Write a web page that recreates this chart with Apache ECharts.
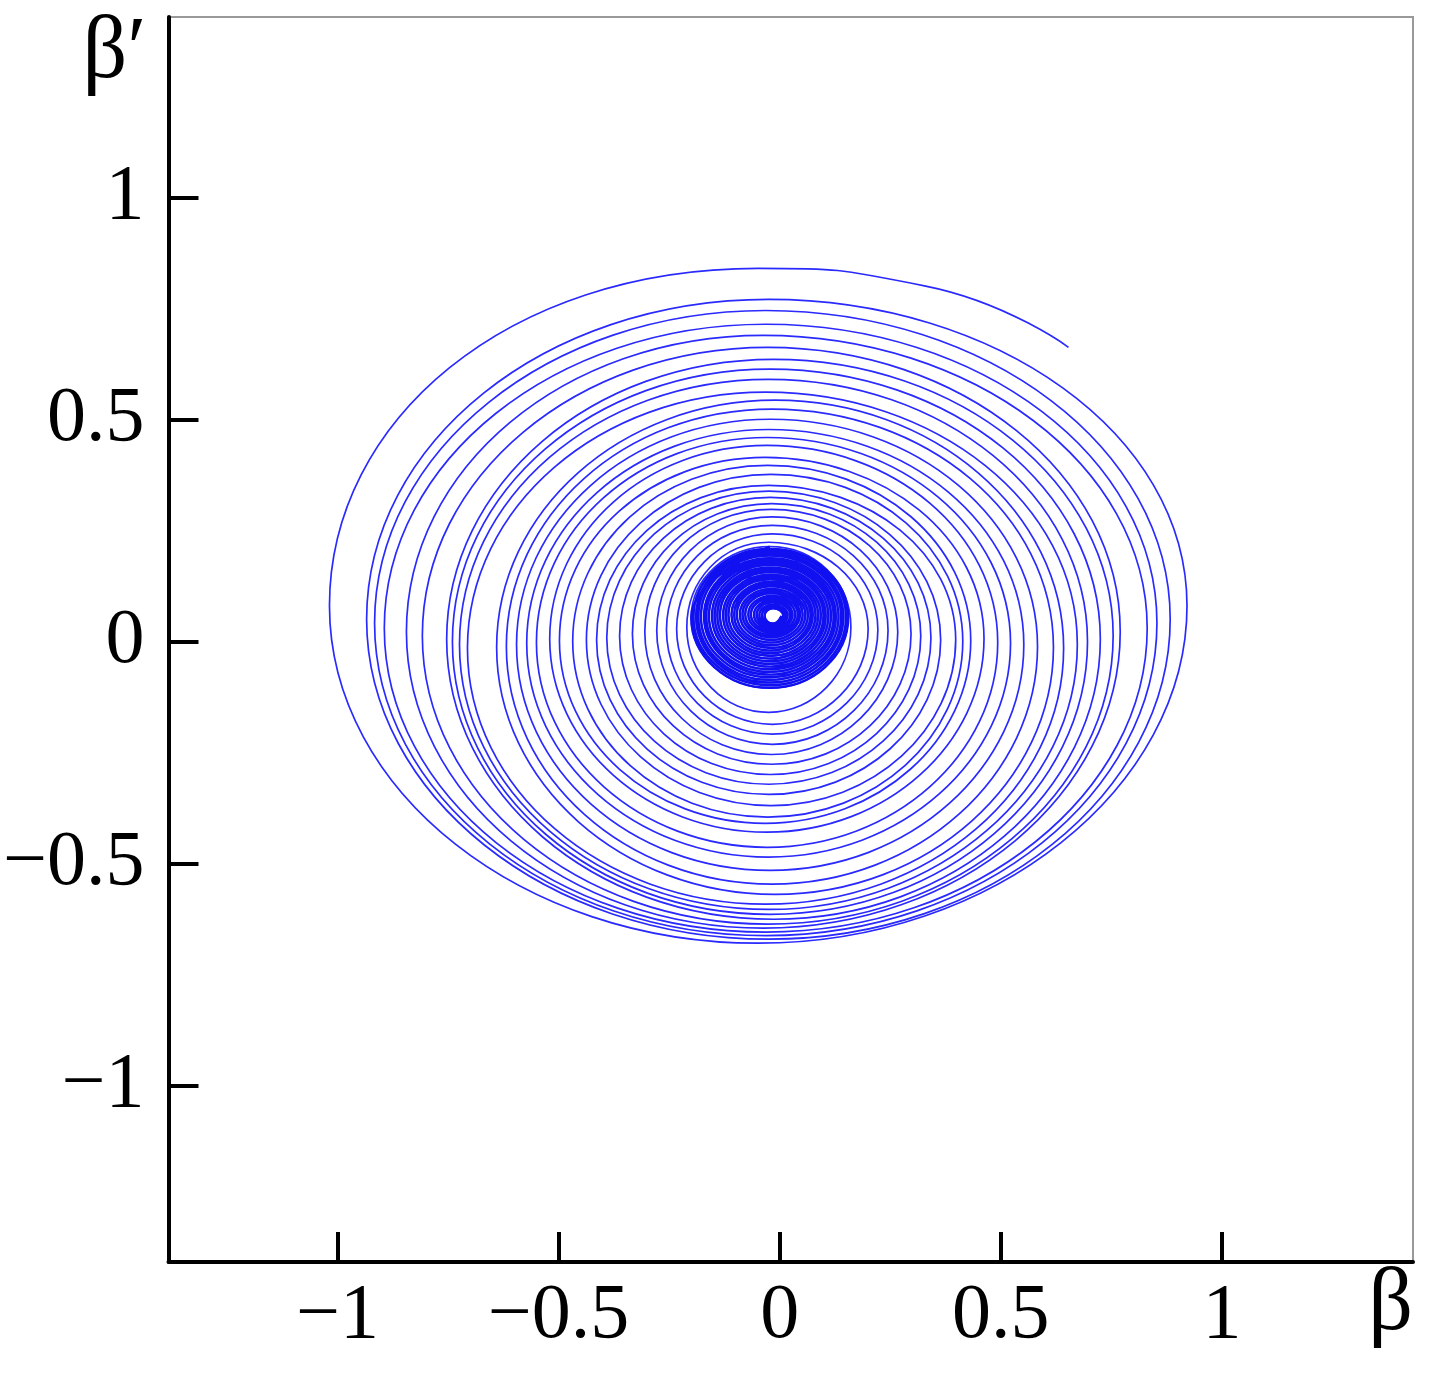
<!DOCTYPE html>
<html>
<head>
<meta charset="utf-8">
<title>phase portrait</title>
<script src="https://cdn.jsdelivr.net/npm/echarts@6/dist/echarts.min.js"></script>
<style>
  html, body { margin: 0; padding: 0; background: #fff; }
  #main { width: 1433px; height: 1379px; }
</style>
</head>
<body>
<div id="main"></div>
<script>
// tick positions
const xTicks = [-1, -0.5, 0, 0.5, 1];
const yTicks = [-1, -0.5, 0, 0.5, 1];

// loose end of the trajectory (upper right) and a point on its arc
const tailPoints = [[0.653, 0.662], [0.330, 0.800]];

// outer loops, read where each turn crosses the top / left / bottom / right of the spiral
const topY = [0.840, 0.770, 0.745, 0.714, 0.689, 0.662, 0.635, 0.613, 0.590, 0.561,
  0.543, 0.523, 0.500, 0.477, 0.459, 0.441, 0.414, 0.396, 0.376, 0.351,
  0.338, 0.324, 0.310, 0.297, 0.280, 0.261, 0.242, 0.223];
const leftX = [-1.018, -0.934, -0.916, -0.894, -0.844, -0.808, -0.753, -0.740, -0.724, -0.706,
  -0.640, -0.618, -0.595, -0.572, -0.550, -0.520, -0.498, -0.468, -0.437, -0.414,
  -0.391, -0.362, -0.333, -0.305, -0.278, -0.256, -0.233, -0.210];
const bottomY = [-0.680, -0.671, -0.663, -0.655, -0.646, -0.637, -0.626, -0.615, -0.604, -0.592,
  -0.570, -0.547, -0.516, -0.486, -0.464, -0.430, -0.410, -0.396, -0.370, -0.345,
  -0.322, -0.300, -0.277, -0.255, -0.232, -0.209, -0.187, -0.160];
const rightX = [0.921, 0.883, 0.853, 0.831, 0.770, 0.754, 0.725, 0.696, 0.673, 0.642,
  0.619, 0.583, 0.552, 0.522, 0.493, 0.462, 0.432, 0.414, 0.398, 0.364,
  0.342, 0.319, 0.297, 0.267, 0.245, 0.222, 0.200, 0.161];

// dense core near the focus
const coreTop = [0.213, 0.208, 0.203, 0.198, 0.193, 0.187, 0.182, 0.177, 0.172, 0.166,
  0.161, 0.156, 0.150, 0.145, 0.140, 0.134, 0.129, 0.124, 0.118, 0.113,
  0.108, 0.102, 0.097, 0.092, 0.087, 0.082, 0.078, 0.074];
const coreLeft = [-0.200, -0.195, -0.189, -0.184, -0.178, -0.171, -0.166, -0.160, -0.153, -0.147,
  -0.141, -0.135, -0.128, -0.122, -0.116, -0.109, -0.103, -0.097, -0.090, -0.084,
  -0.078, -0.071, -0.065, -0.058, -0.052, -0.046, -0.040, -0.034];
const coreBottom = [-0.105, -0.099, -0.093, -0.087, -0.081, -0.075, -0.069, -0.063, -0.057, -0.051,
  -0.045, -0.039, -0.033, -0.027, -0.021, -0.015, -0.009, -0.003, 0.003, 0.009,
  0.014, 0.019, 0.024, 0.028, 0.032, 0.035, 0.038, 0.040];
const coreRight = [0.155, 0.150, 0.144, 0.139, 0.133, 0.127, 0.122, 0.116, 0.110, 0.104,
  0.099, 0.093, 0.087, 0.081, 0.075, 0.070, 0.064, 0.058, 0.052, 0.046,
  0.041, 0.035, 0.029, 0.024, 0.018, 0.013, 0.008, 0.004];

// turn the four crossing lists into an ordered path: top -> left -> bottom -> right -> next top
function buildPath(tops, lefts, bottoms, rights) {
  const pts = [];
  for (let i = 0; i < tops.length; i++) {
    const cx = (lefts[i] + rights[i]) / 2;
    const cy = (tops[i] + bottoms[i]) / 2;
    pts.push([cx, tops[i]]);
    pts.push([lefts[i], cy]);
    pts.push([cx, bottoms[i]]);
    pts.push([rights[i], cy]);
  }
  return pts;
}

const corePath = buildPath(coreTop, coreLeft, coreBottom, coreRight);
// full trajectory as one thin line, the core drawn again thicker on top
const fullPath = tailPoints.concat(buildPath(topY, leftX, bottomY, rightX), corePath);

const fmt = v => (v < 0 ? '\u2212' + Math.abs(v) : String(v));
const labelFont = {
  fontFamily: 'Liberation Serif',
  fontSize: 78,
  color: '#000'
};

const option = {
  animation: false,
  backgroundColor: '#fff',
  grid: {
    left: 165,
    top: 17,
    right: 20,
    bottom: 117,
    show: true,
    borderColor: '#999',
    borderWidth: 2
  },
  xAxis: {
    type: 'value',
    min: -1.382,
    max: 1.432,
    name: '\u03b2',
    nameLocation: 'end',
    nameGap: 0,
    nameTextStyle: {
      fontFamily: 'Liberation Serif',
      fontSize: 88,
      color: '#000',
      align: 'right',
      verticalAlign: 'top'
    },
    axisLine: { onZero: false, lineStyle: { color: '#000', width: 4 } },
    axisTick: { inside: true, length: 30, customValues: xTicks, lineStyle: { color: '#000', width: 4 } },
    axisLabel: Object.assign({ customValues: xTicks, margin: 16, formatter: fmt }, labelFont),
    splitLine: { show: false }
  },
  yAxis: {
    type: 'value',
    min: -1.398,
    max: 1.406,
    name: '\u03b2\u2032',
    nameLocation: 'end',
    nameGap: 7,
    nameTextStyle: {
      fontFamily: 'Liberation Serif',
      fontSize: 88,
      color: '#000',
      align: 'right',
      verticalAlign: 'top',
      padding: [0, 22, 0, 0]
    },
    axisLine: { onZero: false, lineStyle: { color: '#000', width: 4 } },
    axisTick: { inside: true, length: 30, customValues: yTicks, lineStyle: { color: '#000', width: 4 } },
    axisLabel: Object.assign({ customValues: yTicks, margin: 24, formatter: fmt }, labelFont),
    splitLine: { show: false }
  },
  series: [
    {
      name: 'trajectory',
      type: 'line',
      data: fullPath,
      smooth: 0.55,
      showSymbol: false,
      lineStyle: { color: '#2a2aff', width: 1.7 }
    },
    {
      name: 'core',
      type: 'line',
      data: corePath,
      smooth: 0.55,
      showSymbol: false,
      lineStyle: { color: '#1010f0', width: 2.4 }
    }
  ]
};

const chart = echarts.init(document.getElementById('main'));
chart.setOption(option);
</script>
</body>
</html>
